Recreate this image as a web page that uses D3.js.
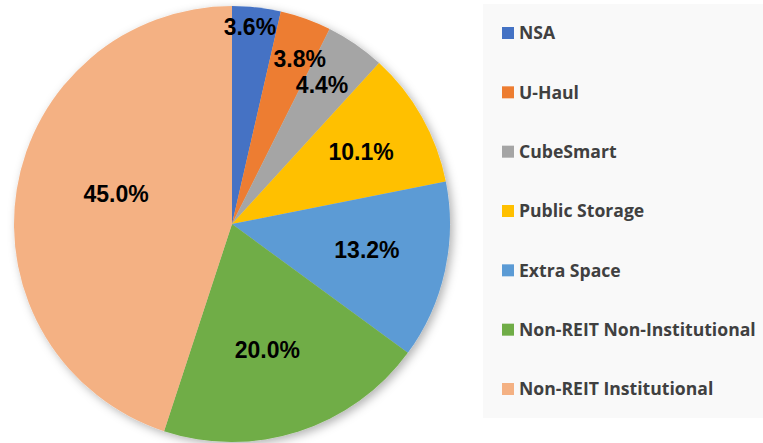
<!DOCTYPE html>
<html>
<head>
<meta charset="utf-8">
<script src="https://cdn.jsdelivr.net/npm/d3@7"></script>
<style>
  body { margin: 0; background: #fff; }
  .slice-label { font-family: Arial, "Liberation Sans", sans-serif; font-weight: bold; font-size: 23px; fill: #000; }
  .legend-text { font-family: "Open Sans", Lato, sans-serif; font-weight: bold; font-size: 17.6px; fill: #404040; }
</style>
</head>
<body>
<svg id="chart"></svg>
<script>
// data
const categories = ['NSA', 'U-Haul', 'CubeSmart', 'Public Storage', 'Extra Space', 'Non-REIT Non-Institutional', 'Non-REIT Institutional'];
const shares = [3.6, 3.8, 4.4, 10.1, 13.2, 20.0, 45.0];
const colors = ['#4472C4', '#ED7D31', '#A5A5A5', '#FFC000', '#5B9BD5', '#70AD47', '#F4B183'];
// label placement (Excel best fit): distance as fraction of radius, angle nudge in degrees
const labelRadius = [0.91, 0.82, 0.76, 0.68, 0.63, 0.6, 0.55];
const labelNudge = [-1.3, 2.5, -1.6, 0, -1.7, 2.1, 5.6];

const width = 763, height = 443;
const cx = 232, cy = 224, radius = 218;

const svg = d3.select('#chart')
    .attr('width', width)
    .attr('height', height);

const defs = svg.append('defs');
const shadow = defs.append('filter')
    .attr('id', 'shadow')
    .attr('x', '-10%').attr('y', '-10%')
    .attr('width', '125%').attr('height', '125%');
shadow.append('feDropShadow')
    .attr('dx', 3).attr('dy', 3)
    .attr('stdDeviation', 5)
    .attr('flood-color', '#000')
    .attr('flood-opacity', 0.3);

// legend panel
svg.append('rect')
    .attr('x', 483).attr('y', 4)
    .attr('width', 280).attr('height', 414)
    .attr('fill', '#f9f9f9');

const pie = d3.pie().sort(null).value(d => d);
const arcs = pie(shares);
const arc = d3.arc().innerRadius(0).outerRadius(radius);

const chart = svg.append('g')
    .attr('transform', `translate(${cx}, ${cy})`);

chart.append('g')
    .attr('filter', 'url(#shadow)')
    .selectAll('path')
    .data(arcs)
    .join('path')
    .attr('d', arc)
    .attr('fill', (d, i) => colors[i]);

chart.selectAll('.slice-label')
    .data(arcs)
    .join('text')
    .attr('class', 'slice-label')
    .attr('transform', (d, i) => {
        const r = radius * labelRadius[i];
        const a = (d.startAngle + d.endAngle) / 2 + labelNudge[i] * Math.PI / 180;
        return `translate(${r * Math.sin(a)}, ${-r * Math.cos(a)})`;
    })
    .attr('text-anchor', 'middle')
    .attr('dy', '0.36em')
    .text(d => d.data.toFixed(1) + '%');

// legend
const legendY = d3.scalePoint()
    .domain(categories)
    .range([33, 389]);

const legend = svg.append('g')
    .selectAll('g')
    .data(categories)
    .join('g')
    .attr('transform', d => `translate(502, ${legendY(d)})`);

legend.append('rect')
    .attr('x', 0).attr('y', -6)
    .attr('width', 12).attr('height', 12)
    .attr('fill', (d, i) => colors[i]);

legend.append('text')
    .attr('class', 'legend-text')
    .attr('x', 17)
    .attr('dy', '0.35em')
    .text(d => d);
</script>
</body>
</html>
